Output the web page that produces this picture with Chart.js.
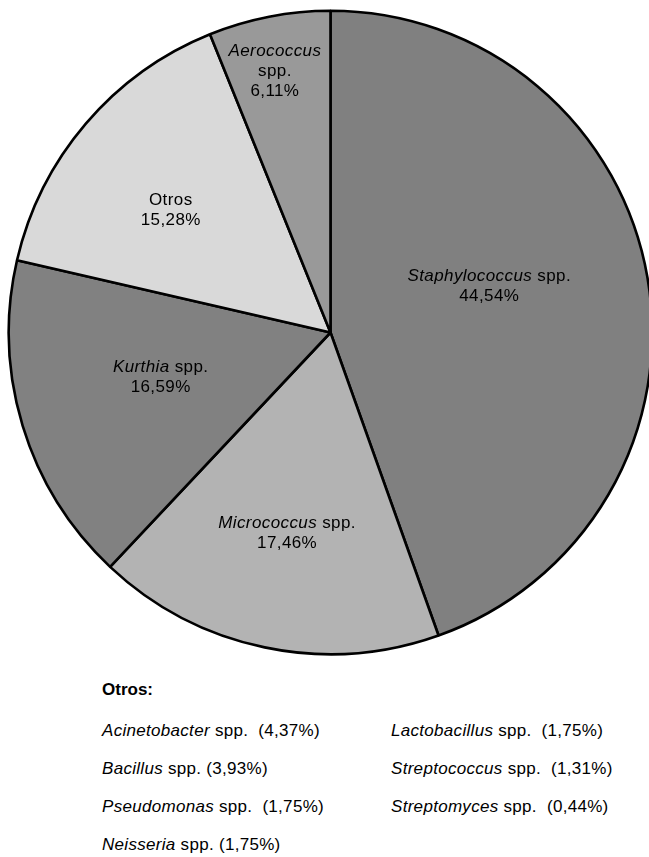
<!DOCTYPE html>
<html lang="es">
<head>
<meta charset="utf-8">
<title>Distribución de géneros bacterianos</title>
<script src="https://cdn.jsdelivr.net/npm/chart.js@4/dist/chart.umd.min.js"></script>
<style>
  html, body { margin: 0; padding: 0; background: #fff; }
  body { width: 649px; height: 857px; overflow: hidden; position: relative;
         font-family: "Liberation Sans", Arial, sans-serif; color: #000; }
  #pie { position: absolute; left: 0; top: 0; }
  .note { position: absolute; font-size: 17px; line-height: 20px; white-space: pre;
          letter-spacing: 0.3px; }
  .note i { font-style: italic; }
  .head { font-weight: bold; letter-spacing: 0; }
</style>
</head>
<body>
<canvas id="pie" width="662" height="665"></canvas>
<div id="notes"></div>
<script>
// Main genera shown as pie slices (percent of isolates)
const categories = ['Staphylococcus', 'Micrococcus', 'Kurthia', 'Otros', 'Aerococcus'];
const shares = [44.54, 17.46, 16.59, 15.28, 6.11];
// Breakdown of the "Otros" group
const otherGenera = ['Acinetobacter', 'Bacillus', 'Pseudomonas', 'Neisseria',
                     'Lactobacillus', 'Streptococcus', 'Streptomyces'];
const otherShares = [4.37, 3.93, 1.75, 1.75, 1.75, 1.31, 0.44];

// Styling
const sliceFills = ['#808080', '#b3b3b3', '#818181', '#d9d9d9', '#999999'];
const isGenus = [true, true, true, false, true];
// label placement: [degrees from slice mid-angle, fraction of radius, stacked lines?]
const labelPlace = [[-6.45, 0.514, false], [0.4, 0.638, false], [2.1, 0.546, false],
                    [-3.1, 0.625, false], [-1.0, 0.831, true]];

const fmt = v => v.toFixed(2).replace('.', ',') + '%';
const FONT = '"Liberation Sans", Arial, sans-serif';
const FS = 17;

const sliceLabels = {
  id: 'sliceLabels',
  afterDatasetsDraw(chart) {
    const ctx = chart.ctx;
    const arcs = chart.getDatasetMeta(0).data;
    ctx.save();
    ctx.fillStyle = '#000';
    ctx.textBaseline = 'middle';
    if ('letterSpacing' in ctx) ctx.letterSpacing = '0.4px';
    arcs.forEach((arc, i) => {
      const [dDeg, frac, stacked] = labelPlace[i];
      const a = (arc.startAngle + arc.endAngle) / 2 + dDeg * Math.PI / 180;
      const d = arc.outerRadius * frac;
      const cx = arc.x + Math.cos(a) * d;
      const cy = arc.y + Math.sin(a) * d;
      // each line is a list of [text, italic]
      let lines;
      if (!isGenus[i]) {
        lines = [[[categories[i], false]], [[fmt(shares[i]), false]]];
      } else if (stacked) {
        lines = [[[categories[i], true]], [['spp.', false]], [[fmt(shares[i]), false]]];
      } else {
        lines = [[[categories[i], true], [' spp.', false]], [[fmt(shares[i]), false]]];
      }
      const lh = 20;
      const y0 = cy - (lines.length - 1) * lh / 2;
      lines.forEach((parts, li) => {
        const widths = parts.map(([t, it]) => {
          ctx.font = (it ? 'italic ' : '') + FS + 'px ' + FONT;
          return ctx.measureText(t).width;
        });
        let x = cx - widths.reduce((s, w) => s + w, 0) / 2;
        parts.forEach(([t, it], pi) => {
          ctx.font = (it ? 'italic ' : '') + FS + 'px ' + FONT;
          ctx.textAlign = 'left';
          ctx.fillText(t, x, y0 + li * lh);
          x += widths[pi];
        });
      });
    });
    ctx.restore();
  }
};

new Chart(document.getElementById('pie'), {
  type: 'pie',
  data: {
    labels: categories,
    datasets: [{
      data: shares,
      backgroundColor: sliceFills,
      borderColor: '#000',
      borderWidth: 2.6,
      hoverOffset: 0
    }]
  },
  options: {
    responsive: false,
    devicePixelRatio: 1,
    animation: false,
    layout: { padding: { left: 7.5, right: 8.5, top: 9.5, bottom: 9.5 } },
    plugins: { legend: { display: false }, tooltip: { enabled: false } },
    events: []
  },
  plugins: [sliceLabels]
});

// Notes block listing the genera grouped as "Otros"
const notes = document.getElementById('notes');
const head = document.createElement('div');
head.className = 'note head';
head.style.left = '102px';
head.style.top = '680px';
head.textContent = 'Otros:';
notes.appendChild(head);
const gaps = ['  ', ' ', '  ', ' ', '  ', '  ', '  '];
otherGenera.forEach((g, i) => {
  const col = i < 4 ? 0 : 1;
  const row = col === 0 ? i : i - 4;
  const el = document.createElement('div');
  el.className = 'note';
  el.style.left = (col === 0 ? 102 : 391) + 'px';
  el.style.top = (721 + row * 38) + 'px';
  const it = document.createElement('i');
  it.textContent = g;
  el.appendChild(it);
  el.appendChild(document.createTextNode(' spp.' + gaps[i] + '(' + otherShares[i].toFixed(2).replace('.', ',') + '%)'));
  notes.appendChild(el);
});
</script>
</body>
</html>
